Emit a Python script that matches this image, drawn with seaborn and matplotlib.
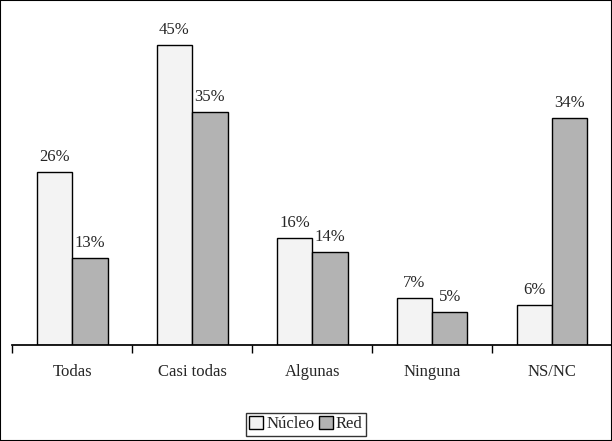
import matplotlib
matplotlib.use("Agg")
import matplotlib.pyplot as plt
import seaborn as sns
import pandas as pd
from matplotlib.patches import Patch, Rectangle

categories = ["Todas", "Casi todas", "Algunas", "Ninguna", "NS/NC"]
nucleo = [26, 45, 16, 7, 6]
red = [13, 35, 14, 5, 34]

df = pd.DataFrame({
    "cat": categories * 2,
    "val": nucleo + red,
    "grupo": ["Núcleo"] * 5 + ["Red"] * 5,
})

sns.set_theme(style="white")
plt.rcParams["font.family"] = ["Liberation Serif", "DejaVu Serif"]

fig = plt.figure(figsize=(6.12, 4.41), dpi=100)
ax = fig.add_axes([0.02, 0.218, 0.98, 0.782])
colors = {"Núcleo": "#f3f3f3", "Red": "#b3b3b3"}
sns.barplot(data=df, x="cat", y="val", hue="grupo", palette=colors,
            width=0.59, edgecolor="black", linewidth=1, ax=ax, legend=False)

for cont in ax.containers:
    ax.bar_label(cont, labels=[f"{v:.0f}%" for v in cont.datavalues],
                 padding=5, fontsize=12)

ax.set_ylim(0, 51.75)
ax.set_xlim(-0.5, 4.5)
ax.set_yticks([])
ax.set_xlabel("")
ax.set_ylabel("")
for s in ["top", "right", "left"]:
    ax.spines[s].set_visible(False)
ax.spines["bottom"].set_color("black")
ax.set_xticks([-0.5, 0.5, 1.5, 2.5, 3.5, 4.5], minor=True)
ax.tick_params(axis="x", which="minor", length=6, direction="out", color="black", bottom=True)
ax.tick_params(axis="x", which="major", length=0, pad=14, labelsize=12)

handles = [Patch(facecolor=colors[k], edgecolor="black", label=k) for k in colors]
fig.legend(handles=handles, loc="center", bbox_to_anchor=(0.5, 0.038), ncol=2,
           frameon=True, fancybox=False, edgecolor="black", fontsize=12,
           handlelength=0.8, handleheight=0.8, handletextpad=0.2, columnspacing=0.3,
           borderpad=0.2)
fig.patches.append(Rectangle((0, 0), 1, 1, transform=fig.transFigure, fill=False,
                             edgecolor="black", linewidth=1.5))
fig.savefig("out.png", dpi=100)
